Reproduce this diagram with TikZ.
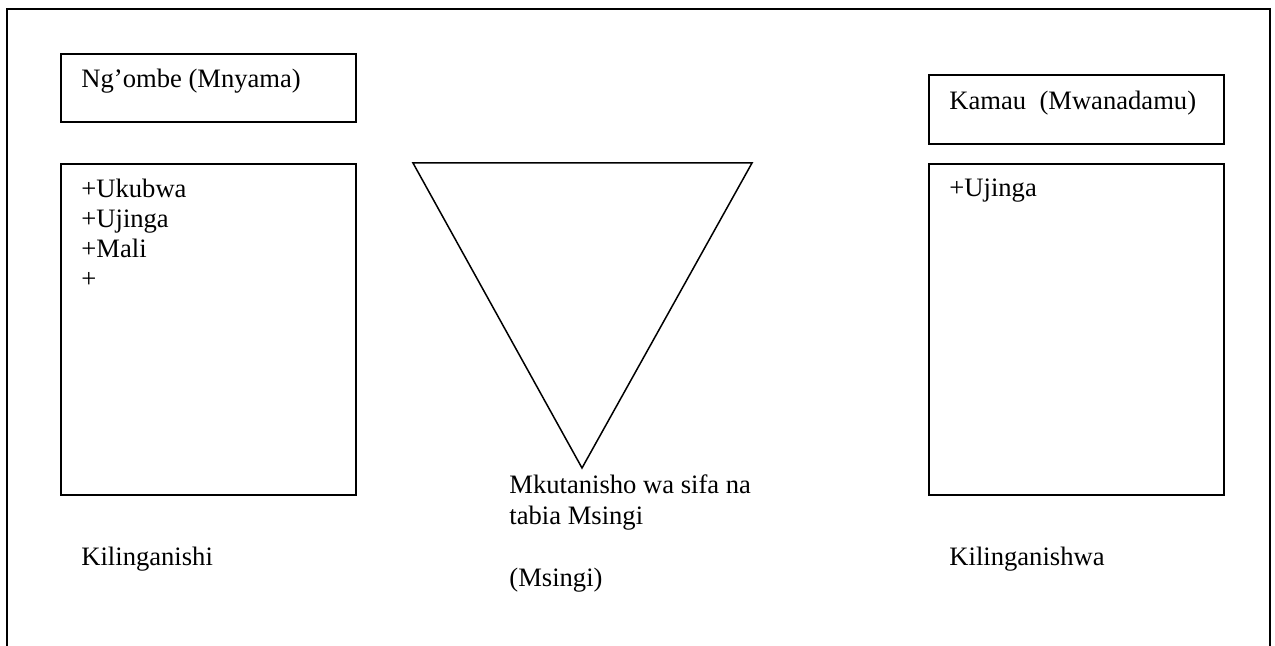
\documentclass[tikz,border=0pt]{standalone}
\usepackage{fontspec}
\setmainfont{Liberation Serif}
\usetikzlibrary{positioning}

\begin{document}
\begin{tikzpicture}[x=0.5pt,y=-0.5pt,
	kisanduku/.style={draw,line width=0.8pt,minimum width=147.5pt,anchor=north west,inner sep=0pt},
	maandishi/.style={anchor=base west,inner sep=0pt,font=\fontsize{13.3}{15}\selectfont}]
	\useasboundingbox (0,0) rectangle (1275,646);
	\coordinate (fremu1) at (7,646);
	\coordinate (fremu2) at (7,9);
	\coordinate (fremu3) at (1270,9);
	\coordinate (fremu4) at (1270,646);
	\draw[line width=1pt] (fremu1) -- (fremu2) -- (fremu3) -- (fremu4);
	% kilinganishi
	\node[kisanduku,minimum height=34pt] (ngombe) at (60,53) {};
	\node[kisanduku,minimum height=165.5pt] (ngombesifa) at (60,163) {};
	\node[maandishi] (ngombejina) at (81,88) {Ng’ombe (Mnyama)};
	\foreach \sifa [count=\i] in {+Ukubwa,+Ujinga,+Mali,+}
		\node[maandishi] (ngombe\i) at (81,168+30*\i) {\sifa};
	\node[maandishi] (kilinganishi) at (81,566) {Kilinganishi};
	% kilinganishwa
	\node[kisanduku,minimum height=34.5pt] (kamau) at (928,74) {};
	\node[kisanduku,minimum height=165.5pt] (kamausifa) at (928,163) {};
	\node[maandishi] (kamaujina) at (949,110) {Kamau\ \ (Mwanadamu)};
	\node[maandishi] (kamau1) at (949,197) {+Ujinga};
	\node[maandishi] (kilinganishwa) at (949,566) {Kilinganishwa};
	% msingi
	\coordinate (pembe1) at (413,163);
	\coordinate (pembe2) at (752,163);
	\coordinate (pembe3) at (582,468);
	\draw[line width=0.75pt,line join=miter] (pembe1) -- (pembe2) -- (pembe3) -- cycle;
	\node[maandishi] (msingi1) at (509,494) {Mkutanisho wa sifa na};
	\node[maandishi] (msingi2) at (509,524) {tabia Msingi};
	\node[maandishi] (msingi3) at (509,587) {(Msingi)};
\end{tikzpicture}
\end{document}
